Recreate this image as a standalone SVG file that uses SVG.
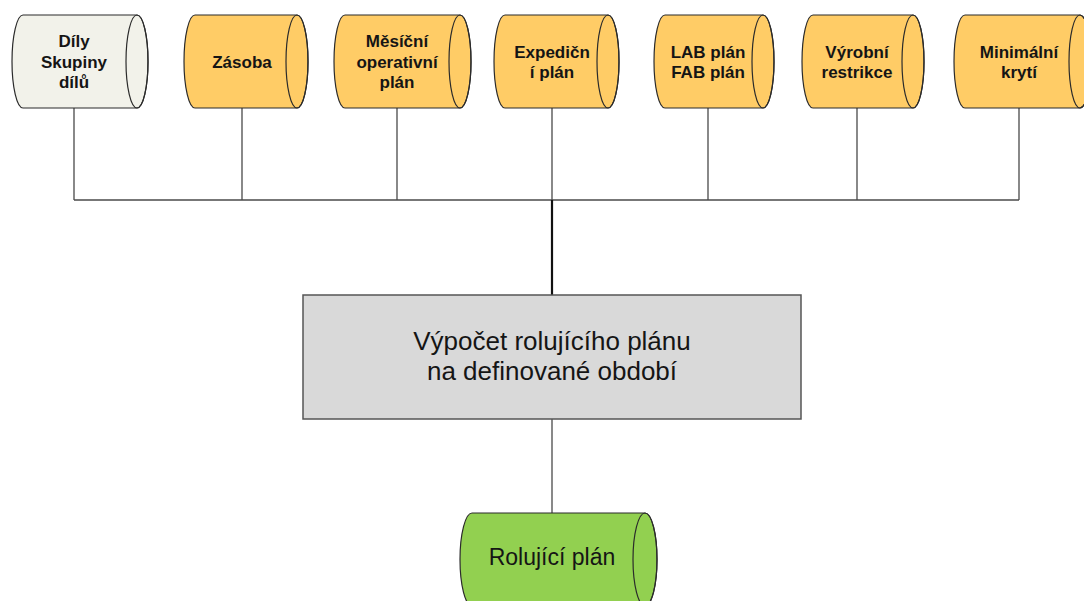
<svg xmlns="http://www.w3.org/2000/svg" width="1084" height="601" viewBox="0 0 1084 601">
  <style>
    .bg { fill: #ffffff; }
    .cyl { stroke: #2b2b2b; stroke-width: 1.2; }
    .cap { fill: none; stroke: #2b2b2b; stroke-width: 1.2; }
    .cream { fill: #F2F2EA; }
    .orange { fill: #FFCC66; }
    .green { fill: #92D050; }
    .proc { fill: #D9D9D9; stroke: #555555; stroke-width: 1.5; }
    .lbl { font-family: "Liberation Sans", Arial, sans-serif; font-weight: bold; font-size: 17px; fill: #151515; text-anchor: middle; }
    .big { font-family: "Liberation Sans", Arial, sans-serif; font-size: 26px; fill: #151515; text-anchor: middle; }
    .mid { font-family: "Liberation Sans", Arial, sans-serif; font-size: 23px; fill: #151515; text-anchor: middle; }
    .wire { fill: none; stroke: #4a4a4a; stroke-width: 1.3; }
    .trunk { fill: none; stroke: #111111; stroke-width: 2.2; }
  </style>
  <rect class="bg" x="0" y="0" width="1084" height="601"/>

  <!-- connectors -->
  <g id="connectors">
    <path class="wire" d="M74 108 V200 M242 108 V200 M397 108 V200 M552 108 V200 M708 108 V200 M857 108 V200 M1019 108 V200"/>
    <path class="wire" d="M74 200 H1019"/>
    <path class="trunk" d="M552 200 V295"/>
    <path class="wire" d="M552 419 V513"/>
  </g>

  <!-- data stores: body with left bulge, right end drawn as an ellipse -->
  <g id="dily">
    <path class="cyl cream" d="M23 15 H137 A11 46.5 0 0 1 137 108 H23 A11 46.5 0 0 1 23 15 Z"/>
    <ellipse class="cap" cx="137" cy="61.5" rx="11" ry="46.5"/>
    <text class="lbl" x="74" y="47">Díly</text>
    <text class="lbl" x="74" y="68">Skupiny</text>
    <text class="lbl" x="74" y="88">dílů</text>
  </g>

  <g id="zasoba">
    <path class="cyl orange" d="M195 15 H297 A11 46.5 0 0 1 297 108 H195 A11 46.5 0 0 1 195 15 Z"/>
    <ellipse class="cap" cx="297" cy="61.5" rx="11" ry="46.5"/>
    <text class="lbl" x="242" y="67.5">Zásoba</text>
  </g>

  <g id="mesicni">
    <path class="cyl orange" d="M345 15 H460 A11 46.5 0 0 1 460 108 H345 A11 46.5 0 0 1 345 15 Z"/>
    <ellipse class="cap" cx="460" cy="61.5" rx="11" ry="46.5"/>
    <text class="lbl" x="397" y="47">Měsíční</text>
    <text class="lbl" x="397" y="68">operativní</text>
    <text class="lbl" x="397" y="88">plán</text>
  </g>

  <g id="expedicni">
    <path class="cyl orange" d="M505 15 H608 A11 46.5 0 0 1 608 108 H505 A11 46.5 0 0 1 505 15 Z"/>
    <ellipse class="cap" cx="608" cy="61.5" rx="11" ry="46.5"/>
    <text class="lbl" x="552" y="57.5">Expedičn</text>
    <text class="lbl" x="552" y="78">í plán</text>
  </g>

  <g id="labfab">
    <path class="cyl orange" d="M665 15 H763 A11 46.5 0 0 1 763 108 H665 A11 46.5 0 0 1 665 15 Z"/>
    <ellipse class="cap" cx="763" cy="61.5" rx="11" ry="46.5"/>
    <text class="lbl" x="708" y="57.5">LAB plán</text>
    <text class="lbl" x="708" y="78">FAB plán</text>
  </g>

  <g id="vyrobni">
    <path class="cyl orange" d="M813 15 H913 A11 46.5 0 0 1 913 108 H813 A11 46.5 0 0 1 813 15 Z"/>
    <ellipse class="cap" cx="913" cy="61.5" rx="11" ry="46.5"/>
    <text class="lbl" x="857" y="57.5">Výrobní</text>
    <text class="lbl" x="857" y="78">restrikce</text>
  </g>

  <g id="minimalni">
    <path class="cyl orange" d="M965 15 H1080 A11 46.5 0 0 1 1080 108 H965 A11 46.5 0 0 1 965 15 Z"/>
    <ellipse class="cap" cx="1080" cy="61.5" rx="11" ry="46.5"/>
    <text class="lbl" x="1019" y="57.5">Minimální</text>
    <text class="lbl" x="1019" y="78">krytí</text>
  </g>

  <!-- process -->
  <g id="vypocet">
    <rect class="proc" x="303" y="295" width="498" height="124"/>
    <text class="big" x="552" y="350">Výpočet rolujícího plánu</text>
    <text class="big" x="552" y="380">na definované období</text>
  </g>

  <!-- output store -->
  <g id="rolujici">
    <path class="cyl green" d="M472 513 H645 A12 46.5 0 0 1 645 606 H472 A12 46.5 0 0 1 472 513 Z"/>
    <ellipse class="cap" cx="645" cy="559.5" rx="12" ry="46.5"/>
    <text class="mid" x="552" y="565">Rolující plán</text>
  </g>
</svg>
